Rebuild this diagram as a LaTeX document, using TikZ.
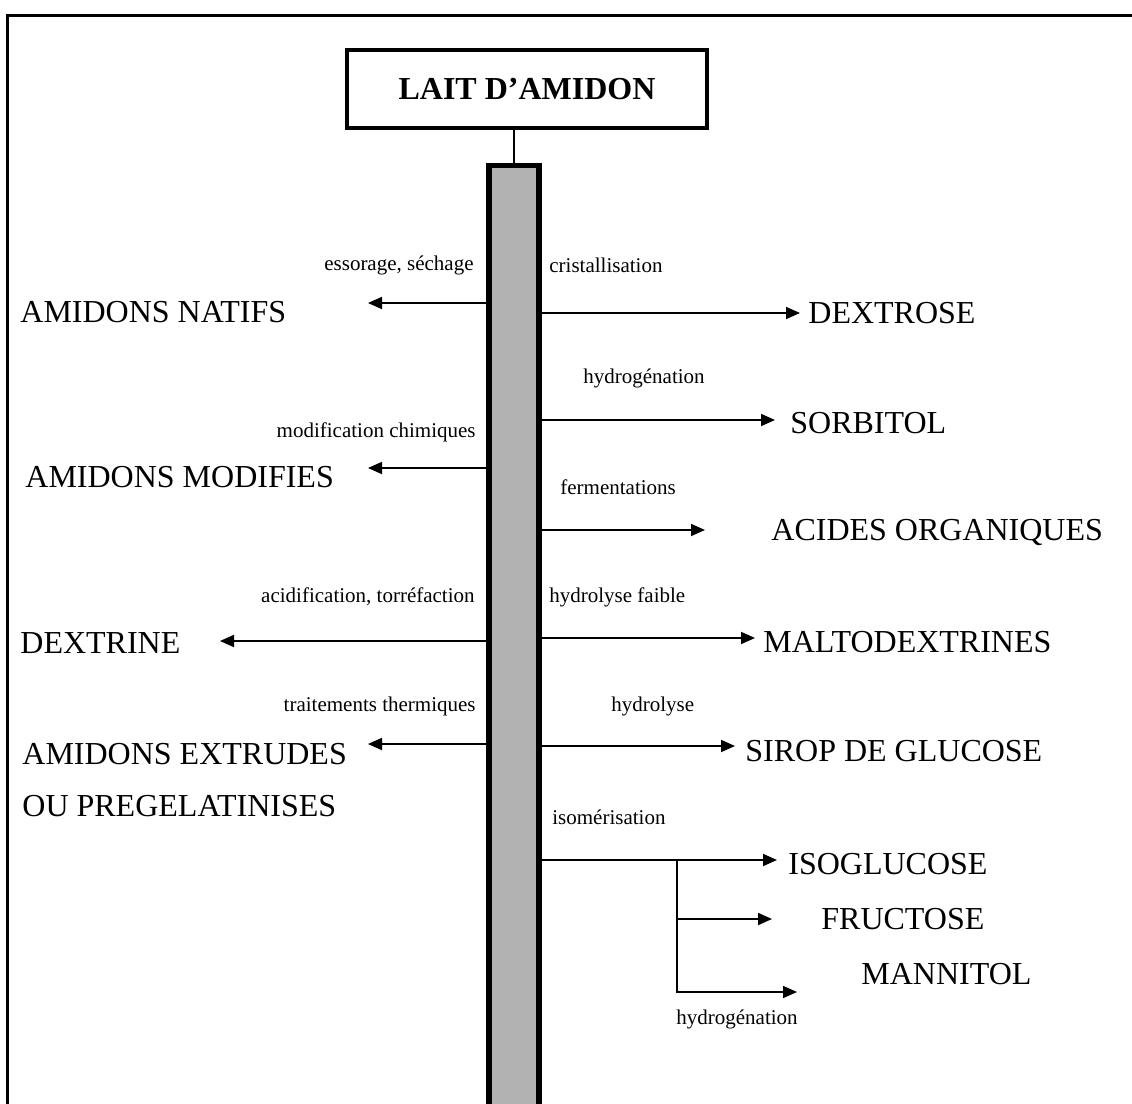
\documentclass[tikz,border=0pt]{standalone}
\usepackage{fontspec}
\setmainfont{Liberation Serif}
\usetikzlibrary{arrows.meta}

\begin{document}
\begin{tikzpicture}[%
        x = 0.5pt,
        y = -0.5pt,
        produit/.style = {%
          inner sep = 0pt,
          anchor = west,
          font = \fontsize{16}{19}\selectfont,
        },
        procede/.style = {%
          inner sep = 0pt,
          font = \fontsize{10.5}{12}\selectfont,
        },
        fleche/.style = {%
          -{Triangle[length=7pt, width=6pt]},
          line width = 0.9pt,
        },
      ]
      \clip (0,0) rectangle (1132,1104);
      \draw[line width=1.5pt] (7,1110) -- (7,15) -- (1140,15);
      \node[draw, line width=2.2pt, minimum width=180pt, minimum height=39pt,
            font=\bfseries\fontsize{16}{19}\selectfont] (lait) at (527,89) {LAIT D’AMIDON};
      \node[draw, line width=2.6pt, fill=black!30, minimum width=25pt,
            minimum height=480pt, anchor=north] (col) at (514,163) {};
      \draw[line width=1.1pt] (col.north |- lait.south) -- (col.north);

      % voie seche
      \node[procede, anchor=east] (essorage) at (474,265) {essorage, séchage};
      \node[procede, anchor=east] (modif)    at (476,432) {modification chimiques};
      \node[procede, anchor=east] (acidif)   at (475,597) {acidification, torréfaction};
      \node[procede, anchor=east] (thermo)   at (476,706) {traitements thermiques};
      \node[produit] (natifs)   at (20,312) {AMIDONS NATIFS};
      \node[produit] (modifies) at (25,477) {AMIDONS MODIFIES};
      \node[produit] (dextrine) at (20,643) {DEXTRINE};
      \node[produit] (extrudes) at (22,754) {AMIDONS EXTRUDES};
      \node[produit] (pregel)   at (22,806) {OU PREGELATINISES};
      \coordinate (t-natifs)   at (368,303);
      \coordinate (t-modifies) at (368,468);
      \coordinate (t-dextrine) at (220,641);
      \coordinate (t-extrudes) at (368,744);
      \foreach \t in {natifs, modifies, dextrine, extrudes}
        \draw[fleche] (col.west |- t-\t) -- (t-\t);

      % voie humide
      \node[procede, anchor=west] (cristal)    at (549,265) {cristallisation};
      \node[procede, anchor=west] (hydrog)     at (583,378) {hydrogénation};
      \node[procede, anchor=west] (ferment)    at (560,487) {fermentations};
      \node[procede, anchor=west] (hydrofaible) at (549,597) {hydrolyse faible};
      \node[procede, anchor=west] (hydrolyse)  at (611,706) {hydrolyse};
      \node[procede, anchor=west] (isomer)     at (552,817) {isomérisation};
      \node[procede, anchor=west] (hydrog-bis) at (676,1019) {hydrogénation};
      \node[produit] (dextrose)   at (808,313) {DEXTROSE};
      \node[produit] (sorbitol)   at (790,423) {SORBITOL};
      \node[produit] (acides)     at (771,532) {ACIDES ORGANIQUES};
      \node[produit] (malto)      at (763,642) {MALTODEXTRINES};
      \node[produit] (sirop)      at (745,751) {SIROP DE GLUCOSE};
      \node[produit] (isoglucose) at (788,864) {ISOGLUCOSE};
      \node[produit] (fructose)   at (821,919) {FRUCTOSE};
      \node[produit] (mannitol)   at (861,974) {MANNITOL};
      \coordinate (t-dextrose)   at (800,313);
      \coordinate (t-sorbitol)   at (775,420);
      \coordinate (t-acides)     at (705,530);
      \coordinate (t-malto)      at (755,638);
      \coordinate (t-sirop)      at (735,746);
      \coordinate (t-isoglucose) at (777,860);
      \coordinate (t-fructose)   at (772,919);
      \coordinate (t-mannitol)   at (797,992);
      \coordinate (branche)      at (677,860);
      \foreach \t in {dextrose, sorbitol, acides, malto, sirop}
        \draw[fleche] (col.east |- t-\t) -- (t-\t);
      \draw[fleche] ([xshift=-2pt]col.east |- t-isoglucose) -- (t-isoglucose);
      \draw[fleche] (branche |- t-fructose) -- (t-fructose);
      \draw[fleche] (branche) |- (t-mannitol);
    \end{tikzpicture}
\end{document}
